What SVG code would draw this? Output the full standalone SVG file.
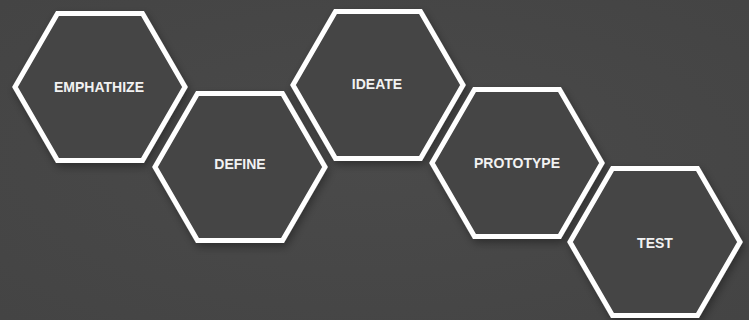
<svg xmlns="http://www.w3.org/2000/svg" xmlns:xlink="http://www.w3.org/1999/xlink" width="749" height="320" viewBox="0 0 749 320">
  <defs>
    <radialGradient id="bg" cx="50%" cy="50%" r="70%">
      <stop offset="0" stop-color="#4a4a4a"/>
      <stop offset="1" stop-color="#444444"/>
    </radialGradient>
    <filter id="shadow" x="-20%" y="-20%" width="140%" height="140%">
      <feDropShadow dx="2" dy="4" stdDeviation="4" flood-color="#000" flood-opacity="0.35"/>
    </filter>
    <polygon id="hex" points="85,0 42.5,-73.6 -42.5,-73.6 -85,0 -42.5,73.6 42.5,73.6"/>
  </defs>
  <style>
    .hex { fill: #444444; stroke: #ffffff; stroke-width: 5; stroke-linejoin: miter; filter: url(#shadow); }
    .label { font-family: "Liberation Sans", Arial, sans-serif; font-weight: bold; font-size: 14px; fill: #f2f2f2; text-anchor: middle; dominant-baseline: central; }
  </style>
  <rect width="749" height="320" fill="url(#bg)"/>
  <g id="connectors"/>
  <g id="node-empathize">
    <use xlink:href="#hex" href="#hex" class="hex" x="100" y="87"/>
    <text class="label" x="99" y="87">EMPHATHIZE</text>
  </g>
  <g id="node-define">
    <use xlink:href="#hex" href="#hex" class="hex" x="240" y="167"/>
    <text class="label" x="240" y="164">DEFINE</text>
  </g>
  <g id="node-ideate">
    <use xlink:href="#hex" href="#hex" class="hex" x="378" y="85"/>
    <text class="label" x="377" y="84">IDEATE</text>
  </g>
  <g id="node-prototype">
    <use xlink:href="#hex" href="#hex" class="hex" x="517" y="163"/>
    <text class="label" x="517" y="163">PROTOTYPE</text>
  </g>
  <g id="node-test">
    <use xlink:href="#hex" href="#hex" class="hex" x="655" y="242"/>
    <text class="label" x="655" y="243">TEST</text>
  </g>
</svg>
